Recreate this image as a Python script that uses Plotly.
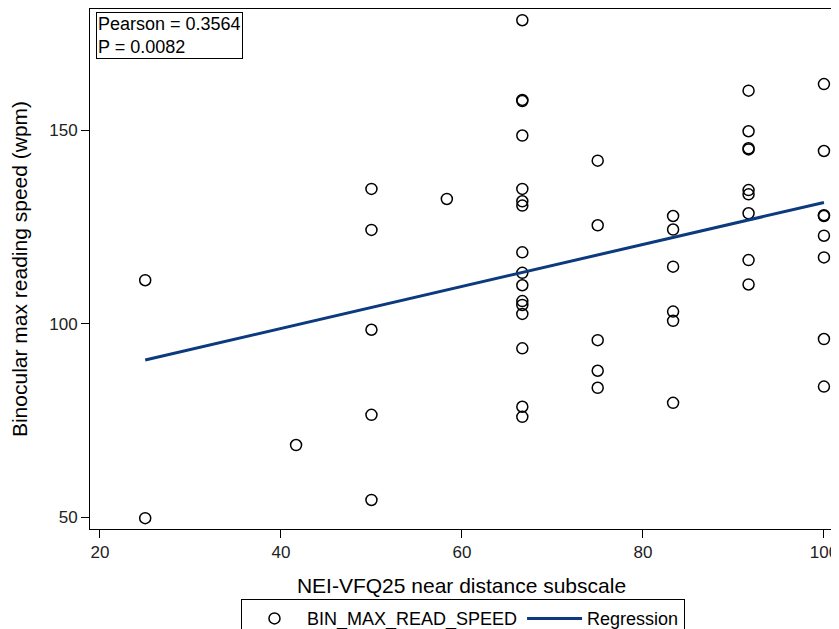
import plotly.graph_objects as go

# NEI-VFQ25 near distance subscale values and binocular max reading speed (wpm)
near_x = (
    [25, 25]
    + [41.67]
    + [50] * 5
    + [58.33]
    + [66.67] * 16
    + [75] * 5
    + [83.33] * 6
    + [91.67] * 9
    + [100] * 8
)
read_speed = (
    [111.2, 49.7]
    + [68.6]
    + [134.8, 124.2, 98.4, 76.4, 54.4]
    + [132.2]
    + [178.4, 157.8, 157.5, 148.6, 134.8, 131.6, 130.5, 118.4, 113.1, 109.9,
       105.8, 104.8, 102.5, 93.6, 78.5, 75.9]
    + [142.1, 125.4, 95.7, 87.8, 83.4]
    + [127.8, 124.3, 114.7, 103.1, 100.7, 79.5]
    + [160.2, 149.7, 145.3, 145.0, 134.5, 133.4, 128.5, 116.4, 110.1]
    + [161.9, 144.6, 128.0, 127.8, 122.7, 117.1, 96.0, 83.7]
)
reg_x = [25, 100]
reg_y = [90.6, 131.3]

x_ticks = [20, 40, 60, 80, 100]
y_ticks = [50, 100, 150]

font_family = "Liberation Sans, Arial, sans-serif"

fig = go.Figure()
fig.add_trace(go.Scatter(
    x=near_x, y=read_speed, mode="markers", name="BIN_MAX_READ_SPEED",
    marker=dict(symbol="circle-open", size=11, color="black", line=dict(width=1.5, color="black")),
))
fig.add_trace(go.Scatter(
    x=reg_x, y=reg_y, mode="lines", name="Regression",
    line=dict(color="#0b3a7e", width=3),
))

fig.add_annotation(
    xref="paper", yref="paper", x=0.008, y=0.994, xanchor="left", yanchor="top",
    text="Pearson = 0.3564<br>P = 0.0082", showarrow=False, align="left",
    font=dict(family=font_family, size=18, color="black"),
    bordercolor="black", borderwidth=1, borderpad=1, bgcolor="white",
)

axis_common = dict(
    showgrid=False, zeroline=False, showline=True, linecolor="black", linewidth=1,
    mirror=True, ticks="outside", ticklen=8, tickwidth=1, tickcolor="black",
    tickfont=dict(family=font_family, size=17, color="#222"), automargin=False,
)

fig.update_layout(
    width=831, height=621,
    margin=dict(l=82, r=6, t=1, b=100, autoexpand=False),
    paper_bgcolor="white", plot_bgcolor="white",
    font=dict(family=font_family, size=17, color="black"),
    xaxis=dict(range=[18.9, 101.0], tickvals=x_ticks,
               title=dict(text="NEI-VFQ25 near distance subscale", font=dict(size=21), standoff=16),
               **axis_common),
    yaxis=dict(range=[46.9, 181.3], tickvals=y_ticks,
               title=dict(text="Binocular max reading speed (wpm)", font=dict(size=21), standoff=18),
               **axis_common),
    showlegend=True,
    legend=dict(orientation="h", x=0.502, xanchor="center", y=-0.135, yanchor="top",
                bordercolor="black", borderwidth=1, bgcolor="white",
                font=dict(family=font_family, size=18, color="black"),
                itemwidth=55, tracegroupgap=0),
)

fig.write_html("out.html")
